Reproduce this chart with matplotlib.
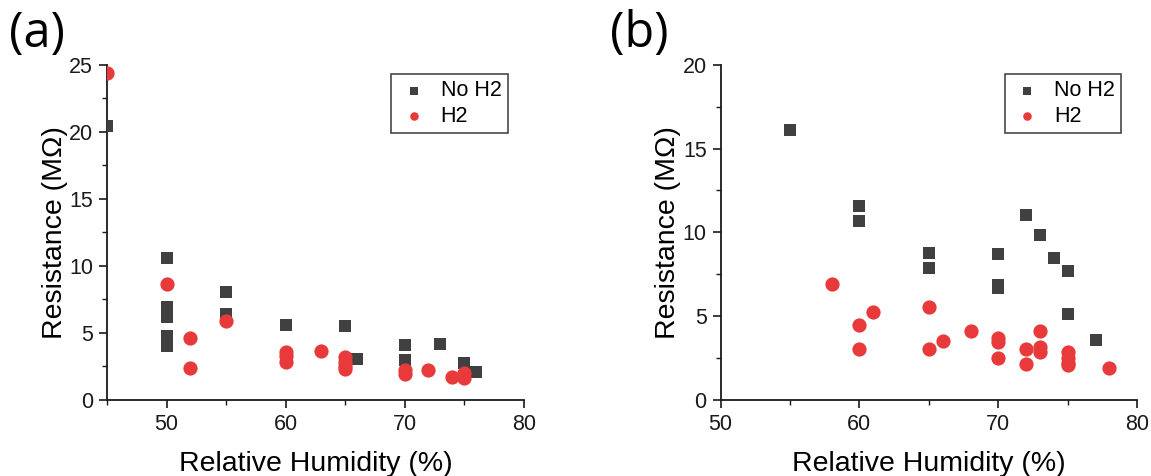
import matplotlib
matplotlib.use("Agg")
import matplotlib.pyplot as plt
from matplotlib.ticker import MultipleLocator

plt.rcParams['font.family'] = ['Liberation Sans', 'DejaVu Sans']

# Panel (a)
a_noh2_x = [45, 50, 50, 50, 50, 50, 50, 55, 55, 60, 65, 66, 70, 70, 73, 75, 76]
a_noh2_y = [20.45, 10.55, 6.95, 6.5, 6.2, 4.78, 4.03, 8.03, 6.4, 5.6, 5.52, 3.03, 4.08, 2.94, 4.18, 2.74, 2.04]
a_h2_x = [45, 50, 52, 52, 55, 60, 60, 60, 63, 65, 65, 65, 65, 70, 70, 72, 74, 75, 75]
a_h2_y = [24.4, 8.63, 4.65, 2.36, 5.9, 3.6, 3.3, 2.79, 3.66, 3.23, 2.86, 2.55, 2.31, 2.24, 1.92, 2.24, 1.74, 1.99, 1.62]

# Panel (b)
b_noh2_x = [55, 60, 60, 65, 65, 70, 70, 70, 72, 73, 74, 75, 75, 77]
b_noh2_y = [16.12, 11.54, 10.65, 8.74, 7.84, 8.7, 6.83, 6.67, 11.04, 9.85, 8.44, 7.66, 5.13, 3.58]
b_h2_x = [58, 60, 60, 61, 65, 65, 66, 68, 70, 70, 70, 72, 72, 73, 73, 73, 75, 75, 75, 75, 78]
b_h2_y = [6.9, 4.48, 3.02, 5.27, 5.53, 3.02, 3.54, 4.1, 3.68, 3.48, 2.49, 3.02, 2.13, 4.12, 3.14, 2.85, 2.83, 2.49, 2.19, 2.05, 1.89]

panels = [
    dict(label='(a)', nx=a_noh2_x, ny=a_noh2_y, hx=a_h2_x, hy=a_h2_y,
         xlim=(45, 80), ylim=(0, 25), xticks=[50, 60, 70, 80], yticks=[0, 5, 10, 15, 20, 25],
         rect=[0.093, 0.160, 0.362, 0.704], lx=-0.235),
    dict(label='(b)', nx=b_noh2_x, ny=b_noh2_y, hx=b_h2_x, hy=b_h2_y,
         xlim=(50, 80), ylim=(0, 20), xticks=[50, 60, 70, 80], yticks=[0, 5, 10, 15, 20],
         rect=[0.626, 0.160, 0.362, 0.704], lx=-0.266),
]

sq_color = '#404040'
red_color = '#e83a3b'

fig = plt.figure(figsize=(11.51, 4.76), dpi=100)
for p in panels:
    ax = fig.add_axes(p['rect'])
    ax.scatter(p['nx'], p['ny'], marker='s', s=72, color=sq_color, label='No H2', zorder=3, linewidths=0)
    ax.scatter(p['hx'], p['hy'], marker='o', s=105, color=red_color, label='H2', zorder=3, linewidths=0)
    ax.set_xlim(*p['xlim'])
    ax.set_ylim(*p['ylim'])
    ax.set_xticks(p['xticks'])
    ax.set_yticks(p['yticks'])
    ax.xaxis.set_minor_locator(MultipleLocator(5))
    ax.yaxis.set_minor_locator(MultipleLocator(2.5))
    for s in ['top', 'right']:
        ax.spines[s].set_visible(False)
    for s in ['left', 'bottom']:
        ax.spines[s].set_linewidth(1.3)
        ax.spines[s].set_color('#1a1a1a')
    ax.tick_params(which='major', direction='out', length=6, width=1.2, labelsize=15.5, colors='#1a1a1a', pad=4)
    ax.tick_params(which='minor', direction='out', length=3.5, width=1.0, colors='#1a1a1a')
    ax.set_xlabel('Relative Humidity (%)', fontsize=20.5, labelpad=12)
    ax.set_ylabel('Resistance (MΩ)', fontsize=20.5, labelpad=1)
    leg = ax.legend(loc='upper right', bbox_to_anchor=(0.962, 0.973), borderaxespad=0,
                    fontsize=15.5, frameon=True,
                    fancybox=False, edgecolor='#1a1a1a', markerscale=0.6, handletextpad=0.5,
                    borderpad=0.3, labelspacing=0.22, handlelength=1.5)
    leg.get_frame().set_linewidth(1.2)
    ax.text(p['lx'], 1.09, p['label'], transform=ax.transAxes, fontsize=35, ha='left', va='center',
            family=['Open Sans', 'DejaVu Sans'])

fig.savefig('out.png', dpi=100)
